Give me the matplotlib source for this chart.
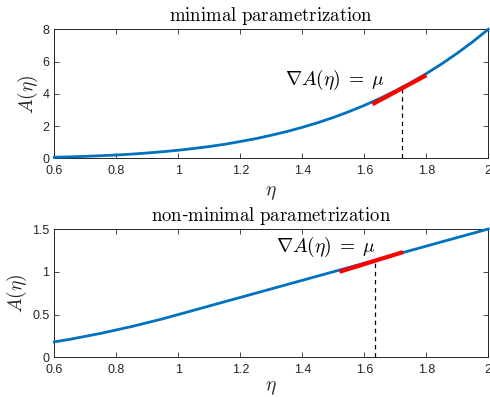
import matplotlib
matplotlib.use("Agg")
import matplotlib.pyplot as plt

plt.rcParams['mathtext.fontset'] = 'cm'
plt.rcParams['font.family'] = ['Liberation Sans', 'DejaVu Sans']

eta = [0.6, 0.65, 0.7, 0.75, 0.8, 0.85, 0.9, 0.95, 1.0, 1.05, 1.1, 1.15, 1.2, 1.25,
       1.3, 1.35, 1.4, 1.45, 1.5, 1.55, 1.6, 1.65, 1.7, 1.75, 1.8, 1.85, 1.9, 1.95, 2.0]
A_min = [0.065, 0.09, 0.12, 0.16, 0.205, 0.26, 0.33, 0.41, 0.5, 0.61, 0.73, 0.87, 1.04,
         1.22, 1.43, 1.66, 1.92, 2.21, 2.53, 2.89, 3.28, 3.71, 4.18, 4.69, 5.25, 5.86,
         6.52, 7.23, 8.0]
A_nonmin = [0.18, 0.21, 0.245, 0.28, 0.32, 0.36, 0.405, 0.45, 0.5, 0.55, 0.6, 0.65, 0.7,
            0.75, 0.8, 0.85, 0.9, 0.95, 1.0, 1.05, 1.1, 1.15, 1.2, 1.25, 1.3, 1.35, 1.4,
            1.45, 1.5]

tangent_min_x = [1.626, 1.80]
tangent_min_y = [3.35, 5.15]
mu_min_x = 1.723
mu_min_y = 4.34

tangent_non_x = [1.52, 1.725]
tangent_non_y = [1.0, 1.23]
mu_non_x = 1.634
mu_non_y = 1.118

xticks = [0.6, 0.8, 1.0, 1.2, 1.4, 1.6, 1.8, 2.0]
xticklabels = ['0.6', '0.8', '1', '1.2', '1.4', '1.6', '1.8', '2']
yticks_top = [0, 2, 4, 6, 8]
yticklabels_top = ['0', '2', '4', '6', '8']
yticks_bot = [0, 0.5, 1.0, 1.5]
yticklabels_bot = ['0', '0.5', '1', '1.5']

blue = '#0072BD'
dark = '#262626'

fig = plt.figure(figsize=(4.9, 3.97), dpi=100)
W, H = 490, 397
ax1 = fig.add_axes([54.3 / W, (H - 158.3) / H, 434 / W, 129 / H])
ax2 = fig.add_axes([54.3 / W, (H - 357.3) / H, 434 / W, 128.3 / H])

def style(ax, yticks, yticklabels, ylim, xlabelpad):
    ax.set_xlim(0.6, 2.0)
    ax.set_ylim(*ylim)
    ax.set_xticks(xticks)
    ax.set_xticklabels(xticklabels)
    ax.set_yticks(yticks)
    ax.set_yticklabels(yticklabels)
    ax.tick_params(direction='in', length=3.5, width=0.6, colors=dark, labelsize=9,
                   top=True, right=True)
    ax.tick_params(axis='x', pad=5)
    ax.tick_params(axis='y', pad=3.5)
    for s in ax.spines.values():
        s.set_color(dark)
        s.set_linewidth(0.7)
    ax.set_xlabel(r'$\eta$', fontsize=14, color=dark, labelpad=xlabelpad)
    ax.set_ylabel(r'$A(\eta)$', fontsize=14, color=dark, labelpad=2)

label = r'$\nabla A(\eta)\;=\;\mu$'

ax1.plot(eta, A_min, color=blue, lw=2, clip_on=False, zorder=3)
ax1.plot(tangent_min_x, tangent_min_y, color='#FF0000', lw=3, solid_capstyle='butt', zorder=4)
ax1.plot([mu_min_x, mu_min_x], [0, mu_min_y], color='black', lw=0.9, ls=(0, (3.5, 3)), zorder=2)
ax1.text(1.344, 4.86, label, fontsize=14, va='center', ha='left')
ax1.set_title(r'$\mathrm{minimal\ parametrization}$', fontsize=13.5, pad=6)
style(ax1, yticks_top, yticklabels_top, (0, 8), 5)

ax2.plot(eta, A_nonmin, color=blue, lw=2, clip_on=False, zorder=3)
ax2.plot(tangent_non_x, tangent_non_y, color='#FF0000', lw=3, solid_capstyle='butt', zorder=4)
ax2.plot([mu_non_x, mu_non_x], [0, mu_non_y], color='black', lw=0.9, ls=(0, (3.5, 3)), zorder=2)
ax2.text(1.315, 1.29, label, fontsize=14, va='center', ha='left')
ax2.set_title(r'$\mathrm{non}$-$\mathrm{minimal\ parametrization}$', fontsize=13.5, pad=6)
style(ax2, yticks_bot, yticklabels_bot, (0, 1.5), 2.5)

fig.savefig('out.png', dpi=100)
